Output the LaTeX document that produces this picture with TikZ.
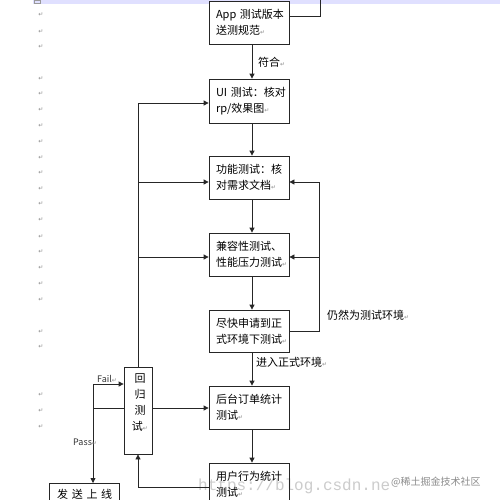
\documentclass[tikz,border=0pt]{standalone}
\usepackage{fontspec}
\setmainfont{Noto Sans CJK SC}
\newfontfamily\dejavu{DejaVu Sans}
\newfontfamily\wmfont{Liberation Mono}
\usetikzlibrary{arrows.meta}
\newcommand{\retmk}{{\color{black!45}\dejavu\fontsize{6}{6}\selectfont ↵}}
\tikzset{
  flowbox/.style={draw=black!85, line width=0.8pt, fill=white, rectangle, minimum width=80pt,
    minimum height=43pt, text width=66pt, inner xsep=7pt, align=left,
    font=\fontsize{11}{16}\selectfont},
  conn/.style={draw=black!85, line width=0.8pt},
  arr/.style={conn, -{Triangle[length=5pt,width=5pt]}},
  lbl/.style={inner sep=0pt, anchor=west, font=\fontsize{11}{14}\selectfont},
  smlbl/.style={inner sep=0pt, anchor=west, font=\fontsize{9}{12}\selectfont, text=black!80},
  margmk/.style={inner sep=0pt, font=\dejavu\fontsize{6}{6}\selectfont, text=black!45}
}
\begin{document}
\begin{tikzpicture}[x=1pt,y=-1pt]
\useasboundingbox (0,0) rectangle (500,499);
\fill[white] (0,0) rectangle (500,499);
% ruler strip
\fill[blue!12] (33,0) rectangle (500,3.5);
\draw[black!40, line width=0.4pt] (34,0) rectangle (40,3.5);
% margin paragraph marks
\foreach \yy [count=\i] in {15,32,47,79,94,110,126,142,158,173,189,204,220,237,252,268,284,300,332,347,395,411,427}
  \node[margmk] (mk\i) at (41,\yy) {↵};
% watermark
\node[inner sep=0pt, anchor=west, font=\wmfont\fontsize{16}{16}\selectfont, text=black!20] (wm) at (198,486) {https://blog.csdn.ne};
% boxes
\node[flowbox] (app) at (249,22.5) {\mbox{App 测试版本}\\\mbox{送测规范\retmk}};
\node[flowbox, minimum height=44pt] (ui) at (249,101) {\mbox{UI 测试：核对}\\\mbox{rp/效果图\retmk}};
\node[flowbox] (func) at (249,177.5) {\mbox{功能测试：核}\\\mbox{对需求文档\retmk}};
\node[flowbox] (comp) at (249,254.5) {\mbox{兼容性测试、}\\\mbox{性能压力测试\retmk}};
\node[flowbox, minimum height=42pt] (apply) at (249,331) {\mbox{尽快申请到正}\\\mbox{式环境下测试\retmk}};
\node[flowbox] (backend) at (249,407.5) {\mbox{后台订单统计}\\\mbox{测试\retmk}};
\node[flowbox, fill=none] (user) at (249,484.5) {\mbox{用户行为统计}\\\mbox{测试\retmk}};
\node[draw=black!85, line width=0.8pt, rectangle, minimum width=28pt, minimum height=87pt, inner sep=0pt] (reg) at (138,410.5) {};
\node[inner sep=0pt, align=center, font=\fontsize{11}{16}\selectfont] (regtext) at (140,403) {回\\归\\测\\试\retmk};
\node[draw=black!85, line width=0.8pt, fill=white, rectangle, minimum width=70pt, minimum height=43pt, inner sep=0pt, anchor=north] (launch) at (84,483) {};
\node[inner sep=0pt, anchor=west, font=\fontsize{11}{14}\selectfont] (launchtext) at (57,494) {发\,\,送\,\,上\,\,线};
% watermark 2
\node[inner sep=0pt, anchor=west, font=\fontsize{10}{12}\selectfont, text=black!45] (wm2) at (391,482) {@稀土掘金技术社区};
% top connector
\coordinate (topc) at (320,-5);
\draw[conn] (app.east |- 0,16) -| (topc);
% main vertical flow
\draw[arr] (app.south -| 252,0) -- (ui.north -| 252,0);
\draw[arr] (ui.south -| 252,0) -- (func.north -| 252,0);
\draw[arr] (func.south -| 252,0) -- (comp.north -| 252,0);
\draw[arr] (comp.south -| 252,0) -- (apply.north -| 252,0);
\draw[arr] (apply.south -| 252,0) -- (backend.north -| 252,0);
\draw[arr] (backend.south -| 252,0) -- (user.north -| 252,0);
\node[lbl] (l1) at (258,62) {符合\retmk};
\node[lbl] (l2) at (256,362) {进入正式环境\retmk};
% right loop
\coordinate (rc) at (319,331);
\draw[conn] (apply.east |- rc) -- (rc) -- (rc |- 0,182);
\draw[arr] (rc |- 0,182) -- (func.east |- 0,182);
\draw[arr] (rc |- 0,257) -- (comp.east |- 0,257);
\node[lbl] (l3) at (327,315) {仍然为测试环境\retmk};
% left loop
\coordinate (lc) at (138,103);
\draw[conn] (reg.north) -- (lc);
\draw[arr] (lc) -- (ui.west |- lc);
\draw[arr] (lc |- 0,182) -- (func.west |- 0,182);
\draw[arr] (lc |- 0,257) -- (comp.west |- 0,257);
% regression
\draw[arr] (reg.east |- 0,408) -- (backend.west |- 0,408);
\coordinate (bc) at (138,487);
\draw[conn] (user.west |- bc) -- (bc);
\draw[arr] (bc) -- (reg.south);
\coordinate (fc) at (93,384);
\draw[conn] (reg.west |- 0,408) -- (fc |- 0,408);
\draw[arr] (fc) -- (reg.west |- fc);
\draw[arr] (fc) -- (launch.north -| fc);
\node[smlbl] (fail) at (97,379) {Fail\retmk};
\node[smlbl] (pass) at (73,442) {Pass\retmk};
\end{tikzpicture}
\end{document}
